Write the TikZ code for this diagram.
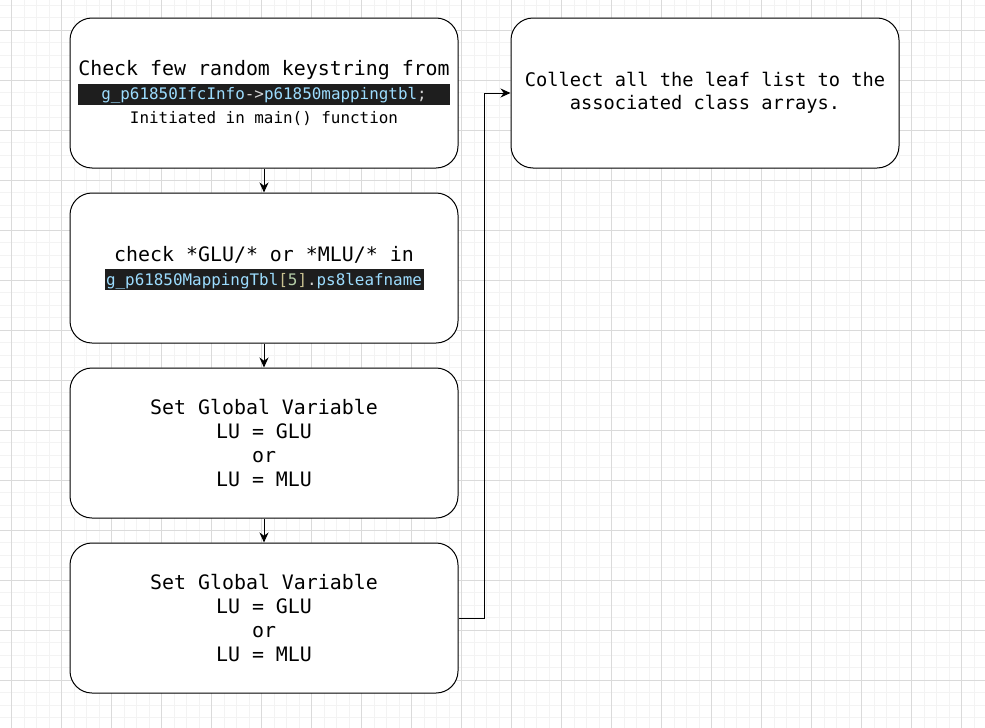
\documentclass[tikz,border=0pt]{standalone}
\usepackage{fontspec}
\setmonofont{DejaVu Sans Mono}
\usetikzlibrary{arrows.meta}

\definecolor{gridmajor}{HTML}{DADADA}
\definecolor{gridminor}{HTML}{F3F3F3}
\definecolor{codebg}{HTML}{1E1E1E}
\definecolor{codeid}{HTML}{9CDCFE}
\definecolor{codeop}{HTML}{D4D4D4}
\definecolor{codenum}{HTML}{B5CEA8}
\definecolor{codebr}{HTML}{C8C090}

% dark code strip with a fixed width
\newcommand{\codestrip}[2]{{\setlength{\fboxsep}{0pt}\colorbox{codebg}{\makebox[#1][c]{\rule[-5pt]{0pt}{21pt}\fontsize{15.9}{24}\selectfont#2}}}}
\newcommand{\smalltxt}{\fontsize{15.9}{24}\selectfont}

\tikzset{
  x=1pt, y=-1pt,
  stepbox/.style={draw=black, line width=1pt, rounded corners=22pt, fill=white,
    minimum width=388pt, minimum height=150pt, inner sep=0pt, align=center,
    font=\ttfamily\fontsize{19.9}{24}\selectfont},
  wide/.style={font=\ttfamily\fontsize{18.7}{23}\selectfont},
  flow/.style={draw=black, line width=1pt, -{Stealth[length=10pt,width=9pt]}},
  minorline/.style={draw=gridminor, line width=0.8pt},
  majorline/.style={draw=gridmajor, line width=0.8pt}
}

\begin{document}
\begin{tikzpicture}
\useasboundingbox (0,0) rectangle (985,728);
\fill[white] (0,0) rectangle (985,728);

% background grid
\foreach \i in {0,...,79} {
  \pgfmathsetmacro{\gx}{-0.8+12.5*\i}
  \draw[minorline] (\gx,0) -- (\gx,728);
}
\foreach \i in {0,...,59} {
  \pgfmathsetmacro{\gy}{5.3+12.5*\i}
  \draw[minorline] (0,\gy) -- (985,\gy);
}
\foreach \i in {0,...,19} {
  \pgfmathsetmacro{\gx}{11.7+50*\i}
  \draw[majorline] (\gx,0) -- (\gx,728);
}
\foreach \i in {0,...,14} {
  \pgfmathsetmacro{\gy}{30.3+50*\i}
  \draw[majorline] (0,\gy) -- (985,\gy);
}

% process steps
\node[stepbox] (b1) at (264,93) {Check few random keystring from\\
  \codestrip{372pt}{\textcolor{codeid}{g\_p61850IfcInfo}\textcolor{codeop}{->}\textcolor{codeid}{p61850mappingtbl}\textcolor{codeop}{;}}\\
  {\smalltxt Initiated in main() function}};

\node[stepbox] (b2) at (264,268) {check *GLU/* or *MLU/* in\\
  \codestrip{319pt}{\textcolor{codeid}{g\_p61850MappingTbl}\textcolor{codebr}{[}\textcolor{codenum}{5}\textcolor{codebr}{]}\textcolor{codeop}{.}\textcolor{codeid}{ps8leafname}}};

\node[stepbox] (b3) at (264,443) {Set Global Variable\\LU = GLU\\or\\LU = MLU};

\node[stepbox] (b4) at (264,618) {Set Global Variable\\LU = GLU\\or\\LU = MLU};

\node[stepbox, wide] (b5) at (705,93) {Collect all the leaf list to the\\associated class arrays.};

% connectors
\draw[flow] (b1.south) -- (b2.north);
\draw[flow] (b2.south) -- (b3.north);
\draw[flow] (b3.south) -- (b4.north);
\draw[flow] (b4.east) -- ++(26,0) |- (b5.west);
\end{tikzpicture}
\end{document}
